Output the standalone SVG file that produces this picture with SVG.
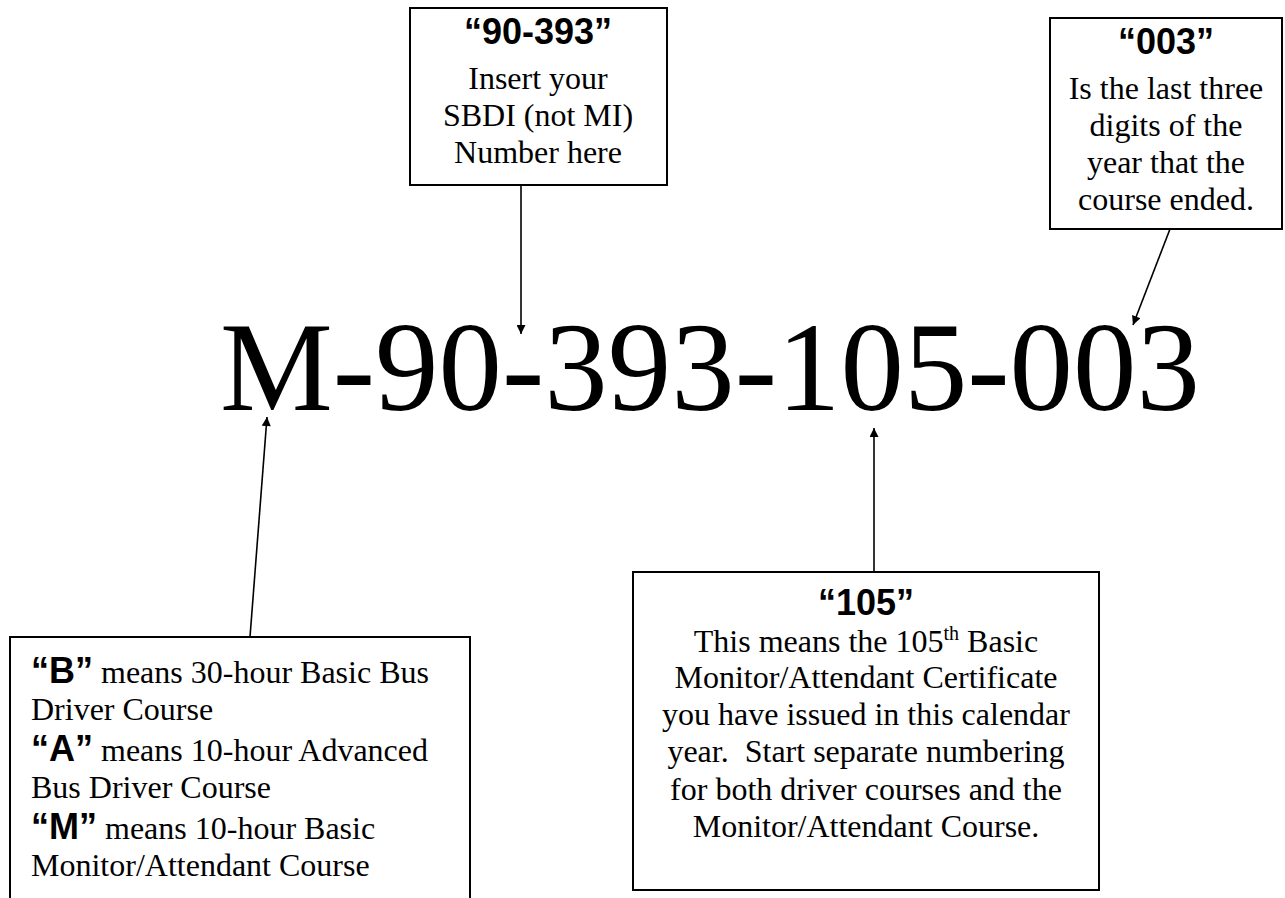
<svg xmlns="http://www.w3.org/2000/svg" width="1285" height="898" viewBox="0 0 1285 898">
<defs>
<marker id="ah" viewBox="0 0 10 10" refX="10" refY="5" markerWidth="15" markerHeight="9" markerUnits="userSpaceOnUse" orient="auto">
<path d="M0,0 L10,5 L0,10 Z" fill="#000"/>
</marker>
<style>
.box{fill:#fff;stroke:#000;stroke-width:2}
.t{font-family:"Liberation Serif","Times New Roman",serif;font-size:32px;fill:#000}
.h{font-family:"Liberation Sans",Arial,sans-serif;font-size:36px;font-weight:bold;fill:#000}
.hb{font-family:"Liberation Sans",Arial,sans-serif;font-weight:bold;font-size:36px}
.c{text-anchor:middle}
.big{font-family:"Liberation Serif","Times New Roman",serif;font-size:128px;fill:#000}
.con{stroke:#000;stroke-width:1.6;fill:none;marker-end:url(#ah)}
</style>
</defs>
<rect width="1285" height="898" fill="#fff"/>
<g id="code">
<text class="big" x="220" y="410" textLength="980" lengthAdjust="spacingAndGlyphs">M-90-393-105-003</text>
</g>
<g id="connectors">
<line class="con" x1="521" y1="185" x2="521" y2="334"/>
<line class="con" x1="1170" y1="229" x2="1133" y2="325"/>
<line class="con" x1="874" y1="572" x2="874" y2="428"/>
<line class="con" x1="250" y1="637" x2="267" y2="417"/>
</g>
<g id="box-sbdi">
<rect class="box" x="410" y="8" width="257" height="177"/>
<text class="h c" x="538" y="44">“90-393”</text>
<text class="t c" x="538" y="89">Insert your</text>
<text class="t c" x="538" y="126">SBDI (not MI)</text>
<text class="t c" x="538" y="163">Number here</text>
</g>
<g id="box-year">
<rect class="box" x="1050" y="18" width="232" height="211"/>
<text class="h c" x="1166" y="54">“003”</text>
<text class="t c" x="1166" y="99">Is the last three</text>
<text class="t c" x="1166" y="136">digits of the</text>
<text class="t c" x="1166" y="173">year that the</text>
<text class="t c" x="1166" y="210">course ended.</text>
</g>
<g id="box-course">
<rect class="box" x="10" y="637" width="460" height="275"/>
<text class="t" x="31" y="683"><tspan class="hb">“B”</tspan> means 30-hour Basic Bus</text>
<text class="t" x="31" y="720">Driver Course</text>
<text class="t" x="31" y="761"><tspan class="hb">“A”</tspan> means 10-hour Advanced</text>
<text class="t" x="31" y="798">Bus Driver Course</text>
<text class="t" x="31" y="839"><tspan class="hb">“M”</tspan> means 10-hour Basic</text>
<text class="t" x="31" y="876">Monitor/Attendant Course</text>
</g>
<g id="box-count">
<rect class="box" x="633" y="572" width="466" height="318"/>
<text class="h c" x="866" y="615">“105”</text>
<text class="t c" x="866" y="652">This means the 105<tspan font-size="20" dy="-12">th</tspan><tspan dy="12"> Basic</tspan></text>
<text class="t c" x="866" y="688">Monitor/Attendant Certificate</text>
<text class="t c" x="866" y="725">you have issued in this calendar</text>
<text class="t c" x="866" y="762" xml:space="preserve">year.  Start separate numbering</text>
<text class="t c" x="866" y="800">for both driver courses and the</text>
<text class="t c" x="866" y="837">Monitor/Attendant Course.</text>
</g>
</svg>
